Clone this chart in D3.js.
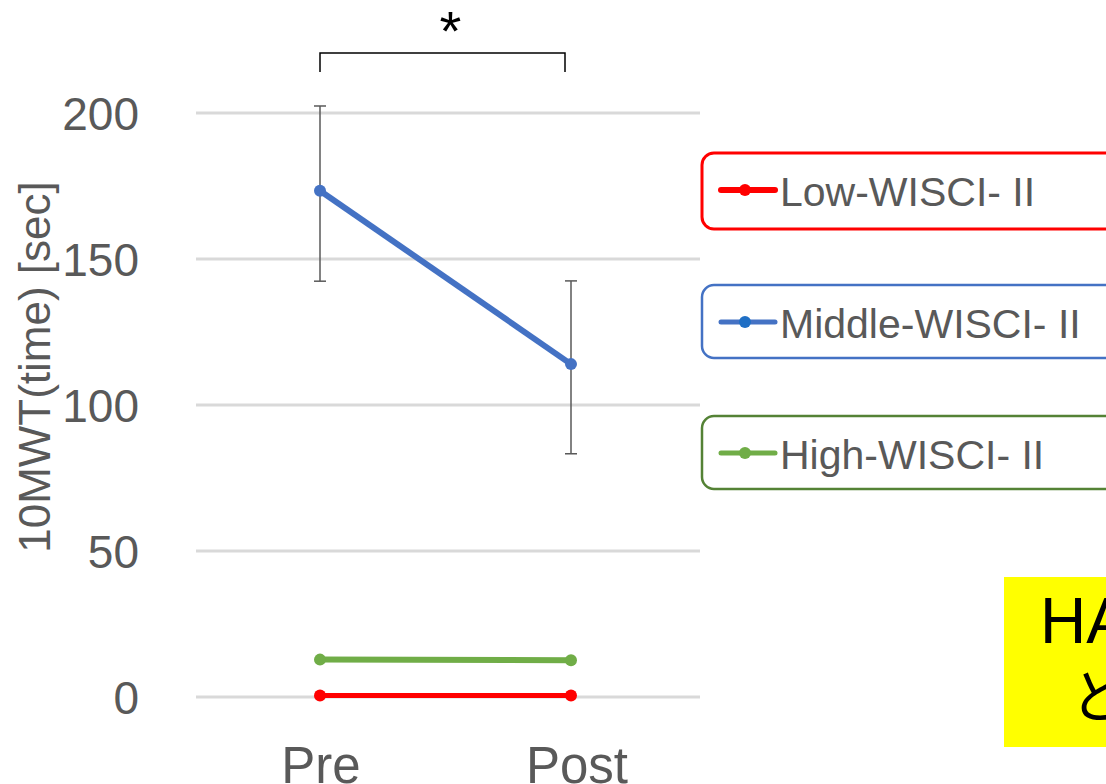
<!DOCTYPE html>
<html><head><meta charset="utf-8">
<script src="https://cdn.jsdelivr.net/npm/d3@7"></script>
<style>body{margin:0;background:#fff}svg{display:block}text{font-family:"Liberation Sans",Arial,sans-serif}</style>
</head><body><svg id="c" width="1106" height="784"></svg>
<script>
const categories = ["Pre","Post"];
const seriesNames = ["Low-WISCI- II","Middle-WISCI- II","High-WISCI- II"];
const seriesColors = ["#ff0000","#4472c4","#70ad47"];
const lowValues = [0.5, 0.5];
const middleValues = [173.4, 114];
const middleErrUp = [29, 28.5];
const middleErrDown = [31, 30.7];
const highValues = [12.8, 12.6];
const highErrUp = [0, 0];
const highErrDown = [0, 0];
const lowErrUp = [0, 0];
const lowErrDown = [0, 0];
const yTicks = [0,50,100,150,200];

const FONT = '"Liberation Sans",Arial,sans-serif';
const svg = d3.select("#c");
const x = d3.scalePoint().domain(categories).range([320,571]);
const y = d3.scaleLinear().domain([0,200]).range([697,113]);

// gridlines
svg.append("g").selectAll("line").data(yTicks).join("line")
  .attr("x1",196).attr("x2",700).attr("y1",d=>y(d)).attr("y2",d=>y(d))
  .attr("stroke","#d9d9d9").attr("stroke-width",3);
// y axis tick labels
const yAxis = d3.axisLeft(y).tickValues(yTicks).tickSize(0).tickPadding(0);
const ga = svg.append("g").attr("transform","translate(139,0)").call(yAxis);
ga.select(".domain").remove();
ga.selectAll("text").attr("font-size",46).attr("fill","#595959").attr("dy","0.36em").style("font-family",FONT);
// x axis labels
const xAxis = d3.axisBottom(x).tickSize(0).tickPadding(0);
const gx = svg.append("g").attr("transform","translate(0,783)").call(xAxis);
gx.select(".domain").remove();
gx.selectAll("text").attr("font-size",51).attr("fill","#595959").attr("dy",0).style("font-family",FONT);
gx.selectAll(".tick").attr("transform",d=>`translate(${x(d)+(d==="Post"?6:1)},0)`);
// y title
svg.append("text").attr("transform","translate(34,367) rotate(-90)")
  .attr("text-anchor","middle").attr("dominant-baseline","central")
  .attr("font-size",44).attr("fill","#595959").text("10MWT(time) [sec]");

const series = [
  {vals:lowValues, up:lowErrUp, dn:lowErrDown, color:seriesColors[0], w:5},
  {vals:middleValues, up:middleErrUp, dn:middleErrDown, color:seriesColors[1], w:6},
  {vals:highValues, up:highErrUp, dn:highErrDown, color:seriesColors[2], w:6}
];
const line = d3.line().x((d,i)=>x(categories[i])).y(d=>y(d));
// error bars
series.forEach(s=>{
  const g = svg.append("g");
  s.vals.forEach((v,i)=>{
    if(!s.up[i] && !s.dn[i]) return;
    const cx = x(categories[i]);
    g.append("line").attr("x1",cx).attr("x2",cx).attr("y1",y(v+s.up[i])).attr("y2",y(v-s.dn[i])).attr("stroke","#595959").attr("stroke-width",1.5);
    [v+s.up[i], v-s.dn[i]].forEach(e=>g.append("line").attr("x1",cx-6).attr("x2",cx+6).attr("y1",y(e)).attr("y2",y(e)).attr("stroke","#595959").attr("stroke-width",1.5));
  });
});
series.forEach(s=>{
  svg.append("path").datum(s.vals).attr("d",line).attr("fill","none").attr("stroke",s.color).attr("stroke-width",s.w);
  svg.append("g").selectAll("circle").data(s.vals).join("circle")
    .attr("cx",(d,i)=>x(categories[i])).attr("cy",d=>y(d)).attr("r",6).attr("fill",s.color);
});

// significance bracket
svg.append("path").attr("d",`M${x("Pre")},72V53H${x("Post")-6}V72`).attr("fill","none").attr("stroke","#000").attr("stroke-width",1.5);
svg.append("text").attr("x",(x("Pre")+x("Post"))/2+5).attr("y",50).attr("text-anchor","middle").attr("font-size",56).attr("fill","#000").text("*");

// legend boxes
const legendY = [190, 322, 453];
const lg = svg.append("g");
seriesNames.forEach((n,i)=>{
  const g = lg.append("g").attr("transform",`translate(0,${legendY[i]})`);
  g.append("rect").attr("x",702).attr("y",-37).attr("width",440).attr("height",i===0?76:73).attr("rx",12)
    .attr("fill","#fff").attr("stroke",i===2?"#548235":seriesColors[i]).attr("stroke-width",i===0?3:2.5);
  g.append("line").attr("x1",721).attr("x2",775).attr("y1",0).attr("y2",0).attr("stroke",seriesColors[i]).attr("stroke-width",i===0?6:5).attr("stroke-linecap","round");
  g.append("circle").attr("cx",745).attr("cy",0).attr("r",6).attr("fill",i===1?"#1f6fc5":seriesColors[i]);
  g.append("text").attr("x",780).attr("y",16).attr("font-size",41).attr("fill","#595959").text(n);
});

// yellow callout (clipped at right)
svg.append("rect").attr("x",1004).attr("y",577).attr("width",120).attr("height",170).attr("fill","#ffff00");
svg.append("text").attr("x",1040).attr("y",643).attr("font-size",64).attr("fill","#000").text("HAL");
svg.append("text").attr("x",1070).attr("y",718).attr("font-size",58).attr("fill","#000").style("font-family",'"Noto Sans CJK JP",sans-serif').text("と");
</script></body></html>
